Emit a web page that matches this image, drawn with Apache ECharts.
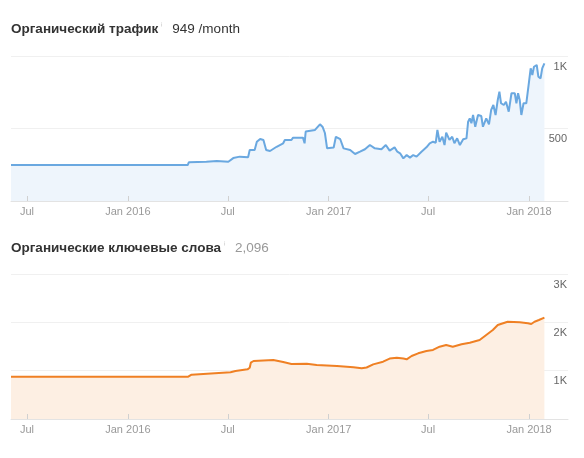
<!DOCTYPE html>
<html>
<head>
<meta charset="utf-8">
<script src="https://cdn.jsdelivr.net/npm/echarts@6/dist/echarts.min.js"></script>
<style>
html,body{margin:0;padding:0;background:#fff;}
#chart{width:584px;height:458px;}
</style>
</head>
<body>
<div id="chart"></div>
<script>
// ---- data ----
const trafficDates = ['2015-06-02','2016-04-19','2016-04-21','2016-05-23','2016-06-11','2016-07-02','2016-07-11','2016-07-23','2016-08-07','2016-08-10','2016-08-19','2016-08-23','2016-08-29','2016-09-04','2016-09-09','2016-09-16','2016-09-28','2016-10-04','2016-10-10','2016-10-13','2016-10-25','2016-10-28','2016-11-15','2016-11-18','2016-11-20','2016-12-07','2016-12-16','2016-12-21','2016-12-25','2016-12-29','2017-01-10','2017-01-14','2017-01-22','2017-01-28','2017-02-09','2017-02-18','2017-02-27','2017-03-08','2017-03-17','2017-03-26','2017-04-07','2017-04-15','2017-04-22','2017-05-01','2017-05-06','2017-05-11','2017-05-17','2017-05-23','2017-05-29','2017-06-04','2017-06-10','2017-06-19','2017-06-28','2017-07-04','2017-07-10','2017-07-15','2017-07-18','2017-07-22','2017-07-27','2017-07-31','2017-08-03','2017-08-09','2017-08-14','2017-08-18','2017-08-23','2017-08-28','2017-09-03','2017-09-09','2017-09-12','2017-09-15','2017-09-18','2017-09-21','2017-09-25','2017-09-30','2017-10-06','2017-10-09','2017-10-15','2017-10-20','2017-10-24','2017-10-28','2017-11-01','2017-11-05','2017-11-08','2017-11-11','2017-11-16','2017-11-20','2017-11-25','2017-11-30','2017-12-06','2017-12-09','2017-12-12','2017-12-15','2017-12-18','2017-12-22','2017-12-27','2018-01-01','2018-01-04','2018-01-07','2018-01-10','2018-01-15','2018-01-18','2018-01-22','2018-01-25','2018-01-29'];
const trafficValues = [248,248,267,271,276,271,296,306,301,352,352,409,428,421,352,345,374,386,398,421,421,437,437,398,479,490,529,510,469,363,369,443,426,363,352,324,340,357,386,363,357,386,347,370,340,329,294,317,299,317,306,340,370,398,409,402,490,409,443,386,471,421,443,398,432,386,426,432,547,570,536,593,512,593,586,512,570,529,628,662,593,697,754,674,662,685,616,743,743,674,743,697,593,674,674,823,915,869,926,938,857,846,915,949];

const keywordDates = ['2015-06-02','2016-04-20','2016-04-26','2016-07-06','2016-07-15','2016-08-06','2016-08-10','2016-08-12','2016-08-17','2016-09-22','2016-10-10','2016-10-25','2016-11-22','2016-12-10','2017-01-16','2017-02-15','2017-03-02','2017-03-11','2017-03-23','2017-04-10','2017-04-22','2017-05-05','2017-05-17','2017-05-23','2017-06-01','2017-06-13','2017-06-28','2017-07-10','2017-07-22','2017-08-03','2017-08-15','2017-08-31','2017-09-15','2017-10-03','2017-10-15','2017-10-27','2017-11-05','2017-11-23','2017-12-15','2017-12-30','2018-01-05','2018-01-11','2018-01-19','2018-01-29'];
const keywordValues = [875,875,917,966,993,1028,1060,1165,1200,1221,1179,1138,1144,1117,1097,1070,1049,1065,1130,1186,1250,1269,1250,1235,1303,1359,1407,1428,1496,1531,1496,1545,1579,1634,1738,1841,1945,2013,2000,1980,1966,2013,2048,2096];

const tickDates = ['2015-07-01','2016-01-01','2016-07-01','2017-01-01','2017-07-01','2018-01-01'];
const tickLabels = ['Jul','Jan 2016','Jul','Jan 2017','Jul','Jan 2018'];

const trafficTicks = [500, 1000];
const trafficTickLabels = ['500', '1K'];
const keywordTicks = [1000, 2000, 3000];
const keywordTickLabels = ['1K', '2K', '3K'];

const titleTraffic = 'Органический трафик';
const titleTrafficValue = '949 /month';
const titleKeywords = 'Органические ключевые слова';
const titleKeywordsValue = '2,096';

// ---- build ----
const parse = s => Date.UTC(+s.slice(0, 4), +s.slice(5, 7) - 1, +s.slice(8, 10));
const tickTs = tickDates.map(parse);
const xMin = parse('2015-06-02');
const xMax = parse('2018-03-13');
const FONT = '"Liberation Sans", Arial, sans-serif';

function xLabelFmt(v) {
  for (let i = 0; i < tickTs.length; i++) {
    if (Math.abs(tickTs[i] - v) < 43200000) return tickLabels[i];
  }
  return '';
}
function yLabelFmt(ticks, labels) {
  return function (v) {
    const i = ticks.indexOf(v);
    return i >= 0 ? labels[i] : '';
  };
}
function makeX(gridIndex) {
  return {
    type: 'value', gridIndex, min: xMin, max: xMax, z: 5,
    axisLine: { show: true, lineStyle: { color: '#e3e3e3', width: 1 } },
    axisTick: { show: true, inside: true, length: 5, customValues: tickTs, lineStyle: { color: '#d0d0d0' } },
    axisLabel: { customValues: tickTs, formatter: xLabelFmt, color: '#999', fontSize: 11, fontFamily: FONT, margin: 5 },
    splitLine: { show: false }
  };
}
function makeY(gridIndex, max, interval, ticks, labels) {
  return {
    type: 'value', gridIndex, position: 'right', min: 0, max, interval,
    axisLine: { show: false }, axisTick: { show: false },
    axisLabel: { inside: true, margin: 1, verticalAlign: 'top', padding: [5, 0, 0, 0], color: '#666', fontSize: 11, fontFamily: FONT, formatter: yLabelFmt(ticks, labels) },
    splitLine: { show: true, lineStyle: { color: '#f0f0f0', width: 1 } }
  };
}
function makeTitle(top, name, value, valueColor) {
  return {
    left: 11, top, padding: 0,
    text: '{a|' + name + '}{i|ⁱ}{b|' + value + '}',
    textStyle: { fontWeight: 'normal', rich: {
      a: { fontSize: 13.5, fontWeight: 'bold', color: '#333', fontFamily: FONT },
      i: { fontSize: 9, fontWeight: 'normal', color: '#bbb', padding: [0, 9, 6, 3], fontFamily: FONT },
      b: { fontSize: 13.5, fontWeight: 'normal', color: valueColor, fontFamily: FONT }
    } }
  };
}

const chart = echarts.init(document.getElementById('chart'), null, { renderer: 'canvas' });
chart.setOption({
  animation: false,
  backgroundColor: '#fff',
  title: [
    makeTitle(22, titleTraffic, titleTrafficValue, '#333'),
    makeTitle(241, titleKeywords, titleKeywordsValue, '#999')
  ],
  grid: [
    { left: 11, right: 16, top: 56, height: 145 },
    { left: 11, right: 16, top: 274, height: 145 }
  ],
  xAxis: [makeX(0), makeX(1)],
  yAxis: [
    makeY(0, 1000, 500, trafficTicks, trafficTickLabels),
    makeY(1, 3000, 1000, keywordTicks, keywordTickLabels)
  ],
  series: [
    {
      type: 'line', xAxisIndex: 0, yAxisIndex: 0, showSymbol: false, symbol: 'none',
      data: trafficDates.map((d, i) => [parse(d), trafficValues[i]]),
      lineStyle: { color: '#6aa8e0', width: 2 },
      areaStyle: { color: '#eef5fc', opacity: 1 }
    },
    {
      type: 'line', xAxisIndex: 1, yAxisIndex: 1, showSymbol: false, symbol: 'none',
      data: keywordDates.map((d, i) => [parse(d), keywordValues[i]]),
      lineStyle: { color: '#ef8024', width: 2 },
      areaStyle: { color: '#fdefe3', opacity: 1 }
    }
  ]
});
</script>
</body>
</html>
